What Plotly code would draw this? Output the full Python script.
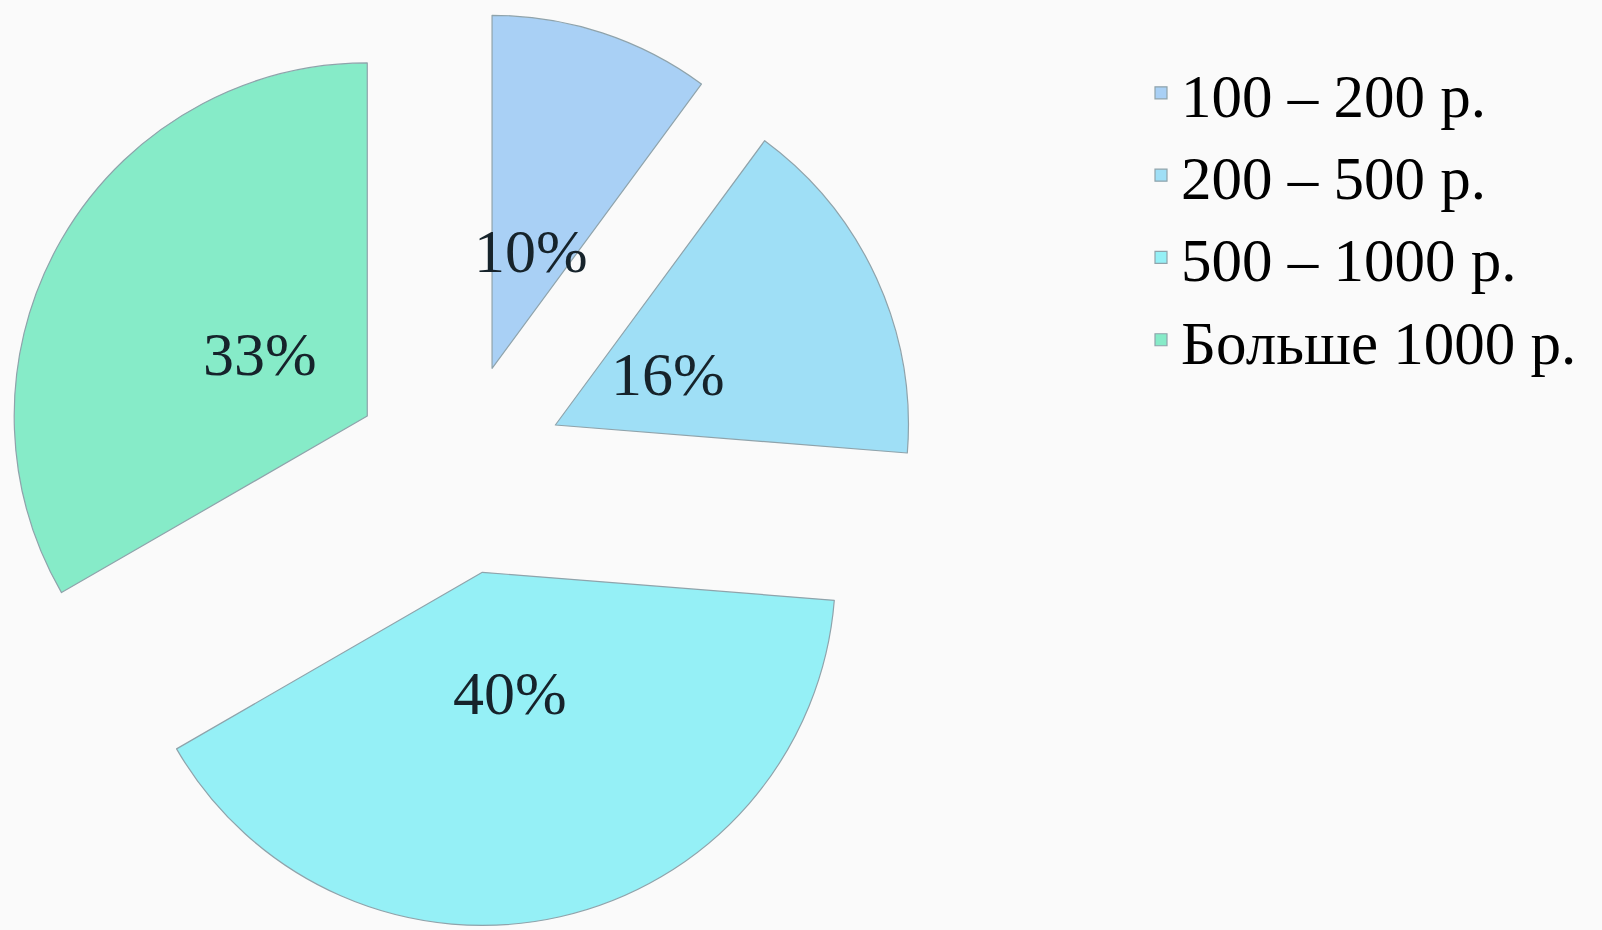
import math
import plotly.graph_objects as go

# Price ranges and their shares (percent)
categories = ["100 – 200 р.", "200 – 500 р.", "500 – 1000 р.", "Больше 1000 р."]
shares = [10, 16, 40, 33]
colors = ["#a9d0f5", "#9fdff6", "#95f0f6", "#86ebc8"]

W, H = 1602, 930
MARGIN = dict(l=0, r=0, t=8, b=0)
PIE_DOMAIN_X = [0, 918 / W]
PULL = 0.3
LABEL_R = 0.35  # label distance from the pulled slice tip, as a fraction of radius

fig = go.Figure(
    go.Pie(
        labels=categories,
        values=shares,
        sort=False,
        direction="clockwise",
        rotation=0,
        pull=[PULL] * len(shares),
        marker=dict(colors=colors, line=dict(color="#8fa3ab", width=1.2)),
        textinfo="none",
        hoverinfo="label+value",
        domain=dict(x=PIE_DOMAIN_X, y=[0, 1]),
    )
)

# Pie geometry in pixels, following Plotly's own pie sizing
plot_w = W - MARGIN["l"] - MARGIN["r"]
plot_h = H - MARGIN["t"] - MARGIN["b"]
box_w = plot_w * (PIE_DOMAIN_X[1] - PIE_DOMAIN_X[0])
box_h = plot_h
radius = min(box_w, box_h) / 2 / (1 + PULL)
cx = MARGIN["l"] + plot_w * (PIE_DOMAIN_X[0] + PIE_DOMAIN_X[1]) / 2
cy = MARGIN["t"] + box_h / 2

total = sum(shares)
cum = 0
for name, v in zip(categories, shares):
    mid = 2 * math.pi * (cum + v / 2) / total
    cum += v
    dist = (PULL + LABEL_R) * radius
    px = cx + dist * math.sin(mid)
    py = cy - dist * math.cos(mid)
    fig.add_annotation(
        x=(px - MARGIN["l"]) / plot_w,
        y=(H - MARGIN["b"] - py) / plot_h,
        xref="paper",
        yref="paper",
        text=f"{v}%",
        showarrow=False,
        xanchor="center",
        yanchor="middle",
        font=dict(family="Liberation Serif", size=62, color="#16232b"),
    )

fig.update_layout(
    width=W,
    height=H,
    margin=MARGIN,
    paper_bgcolor="#fafafa",
    plot_bgcolor="#fafafa",
    showlegend=True,
    legend=dict(
        x=1141 / W,
        y=0.958,
        xanchor="left",
        yanchor="top",
        font=dict(family="Liberation Serif", size=61, color="#000000"),
        bgcolor="rgba(0,0,0,0)",
        traceorder="normal",
    ),
)

fig.write_html("out.html")
